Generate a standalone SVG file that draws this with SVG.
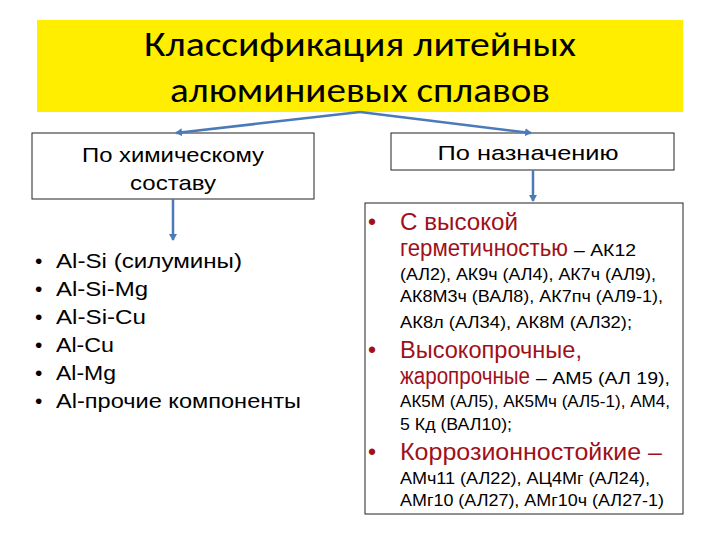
<svg xmlns="http://www.w3.org/2000/svg" width="720" height="540" viewBox="0 0 720 540">
<style>
text{font-family:"Liberation Sans",Arial,sans-serif;fill:#000}
.t{font-family:Carlito,"Open Sans","Liberation Sans",sans-serif;font-size:35px;text-anchor:middle}
.h{font-size:21px;text-anchor:middle}
.l{font-size:21px}
.r{font-size:23px;fill:#a0101a}
.s{font-size:16.5px}
.box{fill:#fff;stroke:#222;stroke-width:1}
.c{stroke:#4a7ab8;stroke-width:2.5;fill:none;marker-end:url(#a)}
</style>
<defs><marker id="a" markerWidth="8" markerHeight="8" refX="6" refY="4" orient="auto" markerUnits="userSpaceOnUse"><path d="M0,0L7,4L0,8z" fill="#4a7ab8"/></marker></defs>
<rect width="720" height="540" fill="#fff"/>
<g id="title"><rect x="37" y="20" width="646" height="92" fill="#ffee00"/>
<text class="t" x="360" y="56" textLength="432" lengthAdjust="spacingAndGlyphs">Классификация литейных</text>
<text class="t" x="360" y="102" textLength="380" lengthAdjust="spacingAndGlyphs">алюминиевых сплавов</text></g>
<g id="chem"><rect class="box" x="32" y="133" width="282" height="66"/>
<text class="h" x="173" y="162" textLength="182" lengthAdjust="spacingAndGlyphs">По химическому</text><text class="h" x="173" y="190" textLength="86" lengthAdjust="spacingAndGlyphs">составу</text></g>
<g id="purp"><rect class="box" x="391" y="133" width="283" height="37"/>
<text class="h" x="528" y="160" textLength="181" lengthAdjust="spacingAndGlyphs">По назначению</text></g>
<g id="list1">
<text class="l" x="35" y="268">•</text><text class="l" x="56" y="268" textLength="186" lengthAdjust="spacingAndGlyphs">Al-Si (силумины)</text>
<text class="l" x="35" y="296">•</text><text class="l" x="56" y="296" textLength="92" lengthAdjust="spacingAndGlyphs">Al-Si-Mg</text>
<text class="l" x="35" y="324">•</text><text class="l" x="56" y="324" textLength="90" lengthAdjust="spacingAndGlyphs">Al-Si-Cu</text>
<text class="l" x="35" y="352">•</text><text class="l" x="56" y="352" textLength="58" lengthAdjust="spacingAndGlyphs">Al-Cu</text>
<text class="l" x="35" y="380">•</text><text class="l" x="56" y="380" textLength="60" lengthAdjust="spacingAndGlyphs">Al-Mg</text>
<text class="l" x="35" y="408">•</text><text class="l" x="56" y="408" textLength="245" lengthAdjust="spacingAndGlyphs">Al-прочие компоненты</text></g>
<g id="list2"><rect class="box" x="365" y="203" width="318" height="311"/>
<text class="r" x="368" y="230">•</text><text class="r" x="400" y="230" textLength="118" lengthAdjust="spacingAndGlyphs">С высокой</text>
<text class="r" x="400" y="256" textLength="168" lengthAdjust="spacingAndGlyphs">герметичностью</text><text class="s" x="574" y="256" textLength="62" lengthAdjust="spacingAndGlyphs">– АК12</text>
<text class="s" x="400" y="280" textLength="256" lengthAdjust="spacingAndGlyphs">(АЛ2), АК9ч (АЛ4), АК7ч (АЛ9),</text>
<text class="s" x="400" y="302" textLength="263" lengthAdjust="spacingAndGlyphs">АК8М3ч (ВАЛ8), АК7пч (АЛ9-1),</text>
<text class="s" x="400" y="328" textLength="232" lengthAdjust="spacingAndGlyphs">АК8л (АЛ34), АК8М (АЛ32);</text>
<text class="r" x="368" y="358">•</text><text class="r" x="400" y="358" textLength="182" lengthAdjust="spacingAndGlyphs">Высокопрочные,</text>
<text class="r" x="400" y="384" textLength="130" lengthAdjust="spacingAndGlyphs">жаропрочные</text><text class="s" x="536" y="384" textLength="134" lengthAdjust="spacingAndGlyphs">– АМ5 (АЛ 19),</text>
<text class="s" x="400" y="407" textLength="270" lengthAdjust="spacingAndGlyphs">АК5М (АЛ5), АК5Мч (АЛ5-1), АМ4,</text>
<text class="s" x="400" y="430" textLength="112" lengthAdjust="spacingAndGlyphs">5 Кд (ВАЛ10);</text>
<text class="r" x="368" y="460">•</text><text class="r" x="400" y="460" textLength="262" lengthAdjust="spacingAndGlyphs">Коррозионностойкие –</text>
<text class="s" x="400" y="484" textLength="250" lengthAdjust="spacingAndGlyphs">АМч11 (АЛ22), АЦ4Мг (АЛ24),</text>
<text class="s" x="400" y="506" textLength="264" lengthAdjust="spacingAndGlyphs">АМг10 (АЛ27), АМг10ч (АЛ27-1)</text></g>
<g id="connectors">
<path class="c" d="M360,112L176,133"/>
<path class="c" d="M360,112L531,133"/>
<path class="c" d="M173,199V240"/>
<path class="c" d="M533,170V201"/>
</g>
</svg>
